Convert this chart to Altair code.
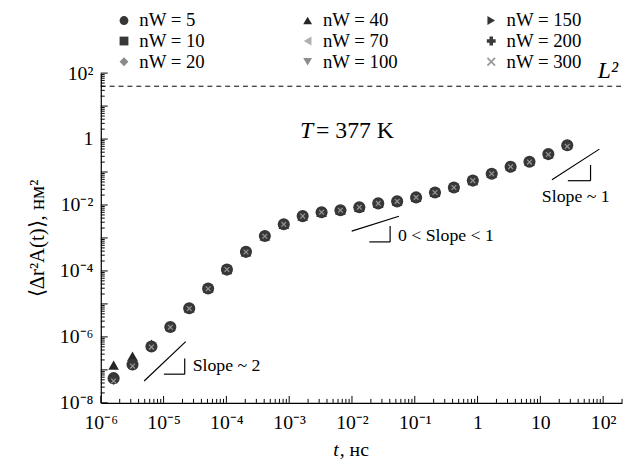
import json
import altair as alt
import pandas as pd

# ---------------- data ----------------
t_ns = [1.6e-6, 3.2e-6, 6.4e-6, 1.28e-5, 2.56e-5, 5.12e-5, 1.02e-4, 2.05e-4,
        4.1e-4, 8.2e-4, 1.64e-3, 3.28e-3, 6.55e-3, 1.31e-2, 2.62e-2, 5.24e-2,
        0.105, 0.21, 0.42, 0.84, 1.68, 3.36, 6.71, 13.4, 26.8]

msd_n5   = [5.6e-8, 1.45e-7, 5.1e-7, 2.0e-6, 7.4e-6, 2.95e-5, 1.1e-4, 3.8e-4, 1.15e-3, 2.6e-3, 4.6e-3, 6.0e-3, 6.9e-3, 8.5e-3, 1.12e-2, 1.29e-2, 1.7e-2, 2.4e-2, 3.4e-2, 5.5e-2, 8.9e-2, 0.145, 0.204, 0.35, 0.65]
msd_n10  = [5.0e-8, 1.35e-7, 5.0e-7, 2.0e-6, 7.3e-6, 2.9e-5, 1.1e-4, 3.8e-4, 1.15e-3, 2.6e-3, 4.5e-3, 6.0e-3, 6.9e-3, 8.6e-3, 1.12e-2, 1.3e-2, 1.7e-2, 2.4e-2, 3.4e-2, 5.4e-2, 9.0e-2, 0.14, 0.2, 0.34, 0.6]
msd_n20  = [4.6e-8, 1.3e-7, 4.9e-7, 1.95e-6, 7.3e-6, 2.9e-5, 1.1e-4, 3.7e-4, 1.12e-3, 2.55e-3, 4.5e-3, 5.9e-3, 6.9e-3, 8.5e-3, 1.1e-2, 1.3e-2, 1.7e-2, 2.4e-2, 3.4e-2, 5.5e-2, 8.8e-2, 0.14, 0.2, 0.35, 0.62]
msd_n40  = [1.4e-7, 2.6e-7, 6.0e-7, 2.1e-6, 7.6e-6, 3.0e-5, 1.1e-4, 3.8e-4, 1.15e-3, 2.6e-3, 4.6e-3, 6.0e-3, 7.0e-3, 8.5e-3, 1.12e-2, 1.3e-2, 1.7e-2, 2.4e-2, 3.5e-2, 5.5e-2, 9.0e-2, 0.15, 0.21, 0.36, 0.68]
msd_n70  = [5.0e-8, 1.4e-7, 5.0e-7, 2.0e-6, 7.4e-6, 2.9e-5, 1.1e-4, 3.8e-4, 1.15e-3, 2.6e-3, 4.6e-3, 6.0e-3, 6.9e-3, 8.4e-3, 1.1e-2, 1.28e-2, 1.7e-2, 2.4e-2, 3.3e-2, 5.5e-2, 8.9e-2, 0.145, 0.2, 0.33, 0.58]
msd_n100 = [4.2e-8, 1.3e-7, 4.9e-7, 1.95e-6, 7.2e-6, 2.9e-5, 1.08e-4, 3.7e-4, 1.12e-3, 2.6e-3, 4.6e-3, 6.0e-3, 6.9e-3, 8.5e-3, 1.12e-2, 1.29e-2, 1.7e-2, 2.4e-2, 3.4e-2, 5.5e-2, 8.9e-2, 0.14, 0.2, 0.34, 0.56]
msd_n150 = [5.8e-8, 1.5e-7, 5.1e-7, 2.0e-6, 7.4e-6, 2.95e-5, 1.1e-4, 3.8e-4, 1.15e-3, 2.6e-3, 4.6e-3, 6.0e-3, 6.9e-3, 8.5e-3, 1.12e-2, 1.29e-2, 1.7e-2, 2.4e-2, 3.4e-2, 5.5e-2, 8.9e-2, 0.145, 0.205, 0.35, 0.66]
msd_n200 = [5.4e-8, 1.45e-7, 5.0e-7, 2.0e-6, 7.4e-6, 2.95e-5, 1.1e-4, 3.8e-4, 1.15e-3, 2.6e-3, 4.6e-3, 6.0e-3, 6.9e-3, 8.5e-3, 1.12e-2, 1.29e-2, 1.7e-2, 2.4e-2, 3.4e-2, 5.5e-2, 8.9e-2, 0.145, 0.2, 0.35, 0.64]
msd_n300 = [4.6e-8, 1.3e-7, 4.9e-7, 1.95e-6, 7.3e-6, 2.9e-5, 1.1e-4, 3.75e-4, 1.13e-3, 2.6e-3, 4.6e-3, 6.0e-3, 6.9e-3, 8.5e-3, 1.12e-2, 1.29e-2, 1.7e-2, 2.4e-2, 3.4e-2, 5.5e-2, 8.9e-2, 0.145, 0.2, 0.34, 0.6]

series_labels = ["nW = 5", "nW = 10", "nW = 20", "nW = 40", "nW = 70",
                 "nW = 100", "nW = 150", "nW = 200", "nW = 300"]
series_values = [msd_n5, msd_n10, msd_n20, msd_n40, msd_n70,
                 msd_n100, msd_n150, msd_n200, msd_n300]

X_PATH = "M-1,-0.72L-0.72,-1L0,-0.28L0.72,-1L1,-0.72L0.28,0L1,0.72L0.72,1L0,0.28L-0.72,1L-1,0.72L-0.28,0Z"
series_shapes = ["circle", "square", "diamond", "triangle-up", "triangle-left",
                 "triangle-down", "triangle-right", "cross", X_PATH]
series_colors = ["#363636", "#383838", "#8a8a8a", "#262626", "#b0b0b0",
                 "#8c8c8c", "#333333", "#3a3a3a", "#9a9a9a"]
series_sizes = [150, 55, 70, 115, 55, 55, 55, 70, 32]
# drawing order (first drawn at the bottom)
draw_order = ["nW = 10", "nW = 20", "nW = 70", "nW = 100", "nW = 150",
              "nW = 40", "nW = 5", "nW = 200", "nW = 300"]

x_major = [1e-6, 1e-5, 1e-4, 1e-3, 1e-2, 1e-1, 1, 10, 100]
x_tick_labels = ["10⁻⁶", "10⁻⁵", "10⁻⁴", "10⁻³", "10⁻²", "10⁻¹", "1", "10", "10²"]
y_labeled = [1e-8, 1e-6, 1e-4, 1e-2, 1, 100]
y_tick_labels = ["10⁻⁸", "10⁻⁶", "10⁻⁴", "10⁻²", "1", "10²"]
y_major = [1e-8, 1e-7, 1e-6, 1e-5, 1e-4, 1e-3, 1e-2, 1e-1, 1, 10, 100]

L2_value = 40.0

# slope guides: segments (t1, v1, t2, v2)
guide_t1 = [4.9e-6, 1.01e-5, 2.17e-5, 9.9e-3, 0.0189, 0.0405, 15.3, 27.4, 63.0]
guide_v1 = [4.6e-8, 7.4e-8, 7.4e-8, 1.62e-3, 7.6e-4, 7.6e-4, 0.058, 0.0546, 0.0546]
guide_t2 = [2.25e-5, 2.17e-5, 2.17e-5, 0.056, 0.0405, 0.0405, 87.0, 63.0, 63.0]
guide_v2 = [7.2e-7, 7.4e-8, 2.2e-7, 4.56e-3, 7.6e-4, 2.3e-3, 0.495, 0.0546, 0.164]

note_text = ["Slope ~ 2", "0 < Slope < 1", "Slope ~ 1"]
note_t = [2.9e-5, 0.054, 36.6]
note_v = [1.3e-7, 1.15e-3, 0.0169]
note_align = ["left", "left", "center"]

FONT = "Liberation Serif"
W, H = 528, 334

xs = alt.Scale(type="log", domain=[1e-6, 200], nice=False)
ys = alt.Scale(type="log", domain=[1e-8, 100], nice=False)

x_expr = json.dumps(x_tick_labels, ensure_ascii=False) + "[round(log(datum.value)/LN10)+6]"
y_expr = json.dumps(y_tick_labels, ensure_ascii=False) + "[round((log(datum.value)/LN10+8)/2)]"

legend_cfg = alt.Legend(
    orient="none", legendX=14, legendY=-63, columns=3, title=None,
    labelFont=FONT, labelFontSize=19, labelColor="black", symbolSize=80,
    symbolStrokeWidth=0, symbolOpacity=1, labelOffset=6,
    columnPadding=84, rowPadding=1, padding=0, gridAlign="all")

x_axis = alt.Axis(
    values=x_major, labelExpr=x_expr, ticks=False, grid=False, title=None,
    domainColor="black", domainWidth=1.2, labelFont=FONT, labelFontSize=20,
    labelColor="black", labelPadding=10, labelFlush=False, labelOverlap=False)
y_axis = alt.Axis(
    values=y_labeled, labelExpr=y_expr, ticks=False, grid=False,
    title="⟨Δr²A(t)⟩, нм²", titleFont=FONT, titleFontSize=21,
    titleFontWeight="normal", titleColor="black", titlePadding=12,
    domainColor="black", domainWidth=1.2, labelFont=FONT, labelFontSize=20,
    labelColor="black", labelPadding=8, labelFlush=False, labelOverlap=False)

# one layer per series, drawn in draw_order, each with its own marker size
point_layers = []
for k, lab in enumerate(draw_order):
    i = series_labels.index(lab)
    sdf = pd.DataFrame({"t": t_ns, "msd": series_values[i], "series": [lab] * len(t_ns)})
    enc = dict(
        x=alt.X("t:Q", scale=xs, axis=x_axis) if k == 0 else alt.X("t:Q", scale=xs),
        y=alt.Y("msd:Q", scale=ys, axis=y_axis) if k == 0 else alt.Y("msd:Q", scale=ys),
        shape=alt.Shape("series:N", scale=alt.Scale(domain=series_labels, range=series_shapes),
                        legend=legend_cfg),
        color=alt.Color("series:N", scale=alt.Scale(domain=series_labels, range=series_colors),
                        legend=legend_cfg),
    )
    point_layers.append(
        alt.Chart(sdf).mark_point(filled=True, opacity=1, strokeWidth=0,
                                  size=series_sizes[i]).encode(**enc))

xt_major = alt.Chart(pd.DataFrame({"t": x_major})).mark_rule(color="black", strokeWidth=1).encode(
    x=alt.X("t:Q", scale=xs), y=alt.value(H), y2=alt.value(H - 7))
xt_minor = alt.Chart(pd.DataFrame({"t": [k * 10.0 ** d for d in range(-6, 3) for k in range(2, 10) if k * 10.0 ** d <= 200]})).mark_rule(
    color="black", strokeWidth=1).encode(
    x=alt.X("t:Q", scale=xs), y=alt.value(H), y2=alt.value(H - 4))
yt_major = alt.Chart(pd.DataFrame({"msd": y_major})).mark_rule(color="black", strokeWidth=1).encode(
    y=alt.Y("msd:Q", scale=ys), x=alt.value(0), x2=alt.value(7))
yt_minor = alt.Chart(pd.DataFrame({"msd": [k * 10.0 ** d for d in range(-8, 2) for k in range(2, 10)]})).mark_rule(
    color="black", strokeWidth=1).encode(
    y=alt.Y("msd:Q", scale=ys), x=alt.value(0), x2=alt.value(4))

l2_line = alt.Chart(pd.DataFrame({"msd": [L2_value]})).mark_rule(
    color="black", strokeWidth=1, strokeDash=[5, 4]).encode(
    y=alt.Y("msd:Q", scale=ys), x=alt.value(0), x2=alt.value(W))
l2_text = alt.Chart(pd.DataFrame({"msd": [L2_value]})).mark_text(
    text="L²", font=FONT, fontSize=24, fontStyle="italic", align="right",
    baseline="bottom", dy=-3, color="black").encode(
    y=alt.Y("msd:Q", scale=ys), x=alt.value(W - 4))

guides = alt.Chart(pd.DataFrame({"t": guide_t1, "msd": guide_v1, "t2": guide_t2, "v2": guide_v2})).mark_rule(
    color="black", strokeWidth=1.2).encode(
    x=alt.X("t:Q", scale=xs), y=alt.Y("msd:Q", scale=ys),
    x2="t2:Q", y2="v2:Q")

notes_df = pd.DataFrame({"txt": note_text, "t": note_t, "msd": note_v, "al": note_align})
notes_left = alt.Chart(notes_df[notes_df.al == "left"]).mark_text(
    font=FONT, fontSize=18, align="left", baseline="middle", color="black").encode(
    x=alt.X("t:Q", scale=xs), y=alt.Y("msd:Q", scale=ys), text="txt:N")
notes_center = alt.Chart(notes_df[notes_df.al == "center"]).mark_text(
    font=FONT, fontSize=18, align="center", baseline="middle", color="black").encode(
    x=alt.X("t:Q", scale=xs), y=alt.Y("msd:Q", scale=ys), text="txt:N")

temp_df = pd.DataFrame({"t": [2.68e-3], "msd": [1.71]})
temp_T = alt.Chart(temp_df).mark_text(
    text="T", font=FONT, fontSize=24, fontStyle="italic", align="right", baseline="middle",
    dx=-3, color="black").encode(
    x=alt.X("t:Q", scale=xs), y=alt.Y("msd:Q", scale=ys))
temp_rest = alt.Chart(temp_df).mark_text(
    text="= 377 K", font=FONT, fontSize=24, align="left", baseline="middle",
    color="black").encode(
    x=alt.X("t:Q", scale=xs), y=alt.Y("msd:Q", scale=ys))

xtitle_t = alt.Chart(temp_df).mark_text(
    text="t", font=FONT, fontSize=20, fontStyle="italic", align="right", baseline="middle",
    color="black").encode(x=alt.value(241), y=alt.value(H + 48))
xtitle_rest = alt.Chart(temp_df).mark_text(
    text=", нс", font=FONT, fontSize=20, align="left", baseline="middle",
    color="black").encode(x=alt.value(242), y=alt.value(H + 48))

chart = alt.layer(
    *point_layers, xt_major, xt_minor, yt_major, yt_minor, l2_line, l2_text,
    guides, notes_left, notes_center, temp_T, temp_rest, xtitle_t, xtitle_rest
).properties(
    width=W, height=H,
    autosize=alt.AutoSizeParams(type="none"),
    padding={"left": 94, "top": 63, "right": 4, "bottom": 59},
).configure_view(stroke=None)

chart.save("out.html", embed_options={"renderer": "svg", "actions": False})
